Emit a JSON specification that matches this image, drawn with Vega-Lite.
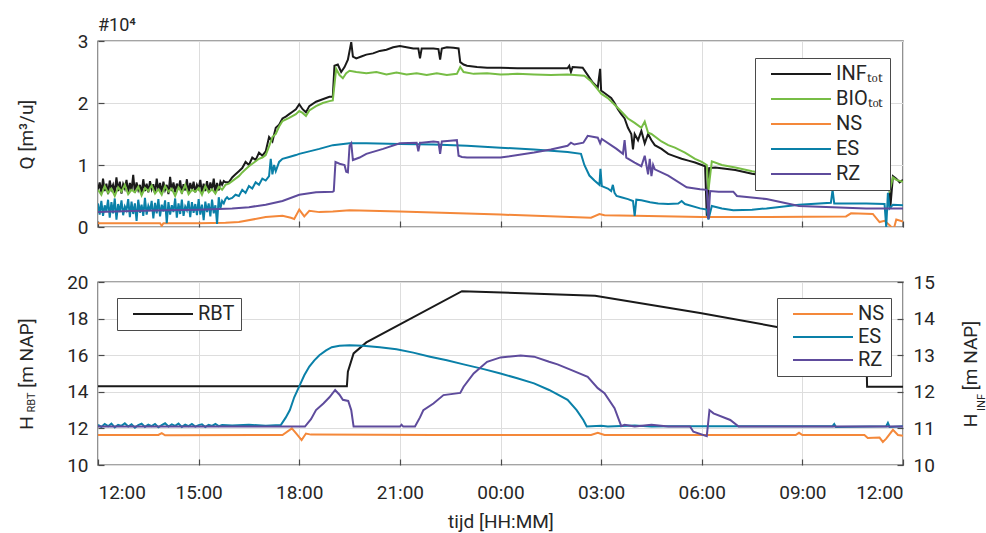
{
  "$schema": "https://vega.github.io/schema/vega-lite/v6.json",
  "background": "white",
  "padding": {"left": 16, "top": 16, "right": 0, "bottom": 0},
  "spacing": 34,
  "config": {
    "font": "Roboto",
    "view": {"stroke": "#4a4a4a", "strokeWidth": 1.4},
    "axis": {
      "labelFont": "Roboto", "titleFont": "Roboto",
      "labelFontSize": 19, "titleFontSize": 19, "titleFontWeight": "normal",
      "labelColor": "#262626", "titleColor": "#262626",
      "domain": false, "ticks": true, "tickSize": -6, "tickColor": "#4a4a4a", "tickWidth": 1.2,
      "gridColor": "#dddddd", "gridWidth": 1, "labelPadding": 16
    },
    "legend": {
      "labelFont": "Roboto", "labelFontSize": 20, "labelColor": "#262626",
      "symbolType": "M0,0H12", "symbolSize": 100, "symbolStrokeWidth": 2.5,
      "strokeColor": "#4a4a4a", "fillColor": "white", "padding": 6,
      "labelOffset": 55, "rowPadding": 3, "orient": "none"
    },
    "line": {"strokeWidth": 2}
  },
  "datasets": {
    "q": [
      {"s": "INF",
       "t": [0,0.05,0.1,0.15,0.2,0.25,0.3,0.35,0.4,0.45,0.5,0.55,0.6,0.65,0.7,0.75,0.8,0.85,0.9,0.95,1,1.05,1.1,1.15,1.2,1.25,1.3,1.35,1.4,1.45,1.5,1.55,1.6,1.65,1.7,1.75,1.8,1.85,1.9,1.95,2,2.05,2.1,2.15,2.2,2.25,2.3,2.35,2.4,2.45,2.5,2.55,2.6,2.65,2.7,2.75,2.8,2.85,2.9,2.95,3,3.05,3.1,3.15,3.2,3.25,3.3,3.35,3.4,3.45,3.5,3.55,3.6,3.65,3.7,3.75,3.8,
             3.9,4.0,4.1,4.2,4.3,4.4,4.5,4.6,4.7,4.8,4.9,5.0,5.1,5.2,5.3,5.4,5.5,5.6,5.7,5.8,5.9,6.0,6.1,6.2,6.3,6.5,6.7,6.9,7.0,7.05,7.15,7.25,7.35,7.45,7.55,7.6,7.7,7.85,8.0,8.2,8.4,8.6,8.8,9.0,9.2,9.4,9.55,9.6,9.65,9.8,10.0,10.15,10.2,10.25,10.4,10.6,10.75,10.8,10.9,11.0,11.3,11.6,12.0,12.5,13.0,13.5,14.0,14.05,14.1,14.15,14.45,14.6,14.75,14.9,14.97,15.0,15.2,15.3,15.4,15.5,15.6,15.7,15.8,15.9,15.95,16.0,16.1,16.2,16.3,16.4,16.5,16.6,16.8,17.0,17.2,17.4,17.6,17.8,18.0,18.1,18.15,18.22,18.4,18.7,19.0,19.5,20.0,21.0,22.0,22.8,23.3,23.4,23.5,23.58,23.62,23.7,23.8,23.9,24.0],
       "v": [0.6,0.72,0.55,0.78,0.58,0.7,0.53,0.75,0.61,0.68,0.55,0.8,0.58,0.73,0.54,0.69,0.62,0.76,0.56,0.71,0.59,0.84,0.55,0.72,0.6,0.68,0.53,0.77,0.58,0.7,0.56,0.74,0.61,0.69,0.54,0.78,0.59,0.71,0.55,0.73,0.6,0.68,0.53,0.81,0.58,0.72,0.56,0.7,0.61,0.75,0.54,0.69,0.59,0.77,0.55,0.71,0.6,0.73,0.56,0.68,0.62,0.76,0.55,0.7,0.58,0.74,0.57,0.72,0.6,0.78,0.56,0.71,0.59,0.73,0.68,0.74,0.72,
             0.72,0.8,0.85,0.9,0.95,1.05,1.0,1.12,1.08,1.2,1.15,1.22,1.45,1.38,1.6,1.65,1.75,1.78,1.82,1.86,1.9,1.98,1.9,1.85,1.95,2.02,2.06,2.1,2.1,2.6,2.62,2.5,2.58,2.7,2.98,2.75,2.72,2.75,2.78,2.8,2.84,2.86,2.9,2.92,2.9,2.88,2.88,2.72,2.88,2.88,2.88,2.87,2.7,2.88,2.9,2.89,2.88,2.66,2.62,2.6,2.58,2.57,2.57,2.56,2.56,2.56,2.56,2.6,2.5,2.58,2.57,2.45,2.33,2.25,2.55,2.2,2.12,2.08,2.0,1.9,1.82,1.75,1.6,1.5,1.25,1.5,1.4,1.55,1.35,1.5,1.4,1.32,1.26,1.18,1.14,1.1,1.07,1.04,1.0,0.98,0.18,0.95,0.96,0.94,0.92,0.86,0.82,0.78,0.74,0.71,0.7,0.66,0.72,0.98,0.3,0.82,0.78,0.72,0.76]},
      {"s": "BIO",
       "t": [0,0.1,0.2,0.3,0.4,0.5,0.6,0.7,0.8,0.9,1,1.1,1.2,1.3,1.4,1.5,1.6,1.7,1.8,1.9,2,2.1,2.2,2.3,2.4,2.5,2.6,2.7,2.8,2.9,3,3.1,3.2,3.3,3.4,3.5,3.6,3.7,3.8,
             3.9,4.0,4.1,4.2,4.3,4.4,4.5,4.6,4.7,4.8,4.9,5.0,5.1,5.2,5.3,5.4,5.5,5.7,5.9,6.0,6.1,6.2,6.3,6.5,6.7,6.9,7.0,7.1,7.2,7.3,7.4,7.5,7.7,8.0,8.3,8.6,8.9,9.2,9.5,9.8,10.1,10.4,10.7,10.8,10.9,11.2,11.6,12.0,12.5,13.0,13.5,14.0,14.5,14.7,14.9,15.0,15.2,15.5,15.8,16.0,16.2,16.3,16.4,16.5,16.8,17.0,17.2,17.5,17.8,18.0,18.15,18.2,18.3,18.6,19.0,19.5,20.0,21.0,22.0,22.8,23.3,23.5,23.6,23.7,23.8,24.0],
       "v": [0.6,0.52,0.66,0.55,0.62,0.5,0.64,0.57,0.68,0.53,0.6,0.56,0.65,0.51,0.63,0.58,0.67,0.54,0.61,0.52,0.66,0.57,0.62,0.5,0.64,0.55,0.68,0.53,0.6,0.57,0.63,0.52,0.66,0.56,0.61,0.54,0.65,0.6,0.68,
             0.7,0.74,0.78,0.82,0.88,0.93,0.98,1.02,1.06,1.1,1.12,1.16,1.3,1.45,1.5,1.62,1.71,1.76,1.82,1.87,1.84,1.79,1.88,1.95,2.0,2.03,2.04,2.55,2.45,2.4,2.48,2.52,2.5,2.48,2.5,2.46,2.49,2.46,2.48,2.45,2.48,2.45,2.47,2.58,2.5,2.47,2.48,2.46,2.47,2.46,2.45,2.46,2.44,2.35,2.22,2.15,2.08,1.92,1.75,1.68,1.6,1.7,1.52,1.5,1.38,1.32,1.28,1.2,1.1,1.05,1.0,0.6,1.06,1.0,0.96,0.9,0.85,0.8,0.75,0.7,0.66,0.68,0.58,0.8,0.76,0.73]},
      {"s": "NS",
       "t": [0,1,1.85,1.9,1.95,3,3.8,4.2,5,5.5,5.75,5.85,6.0,6.15,6.3,6.6,7,7.5,9,12,14.7,14.95,15.1,16,18,20,22.3,22.45,23.1,23.3,23.45,23.6,23.72,23.8,24],
       "v": [0.06,0.06,0.06,0.02,0.06,0.06,0.07,0.08,0.16,0.18,0.15,0.13,0.28,0.17,0.26,0.24,0.25,0.27,0.25,0.2,0.15,0.21,0.19,0.18,0.16,0.16,0.17,0.22,0.21,0.08,0.1,0.03,-0.04,0.12,0.09]},
      {"s": "ES",
       "t": [0,0.05,0.1,0.15,0.2,0.25,0.3,0.35,0.4,0.45,0.5,0.55,0.6,0.65,0.7,0.75,0.8,0.85,0.9,0.95,1,1.05,1.1,1.15,1.2,1.25,1.3,1.35,1.4,1.45,1.5,1.55,1.6,1.65,1.7,1.75,1.8,1.85,1.9,1.95,2,2.05,2.1,2.15,2.2,2.25,2.3,2.35,2.4,2.45,2.5,2.55,2.6,2.65,2.7,2.75,2.8,2.85,2.9,2.95,3,3.05,3.1,3.15,3.2,3.25,3.3,3.35,3.4,3.45,3.5,3.55,3.6,3.65,3.7,3.75,3.8,
             3.85,3.9,4.0,4.1,4.2,4.3,4.4,4.5,4.6,4.7,4.8,4.9,5.0,5.1,5.15,5.2,5.25,5.3,5.4,5.5,5.7,5.9,6.0,6.3,6.6,7.0,7.5,8.0,9.0,10.0,11.0,12.0,13.0,14.0,14.4,14.5,14.65,14.8,14.95,14.98,15.02,15.2,15.3,15.35,15.4,15.46,15.6,15.8,15.95,16.0,16.05,16.2,16.46,16.7,17.0,17.3,17.4,17.5,17.95,18.15,18.2,18.3,18.6,18.94,19.5,19.93,20.9,21.85,21.9,21.95,22.4,22.9,23.45,23.5,23.55,23.6,23.7,24],
       "v": [0.38,0.2,0.42,0.18,0.35,0.25,0.44,0.15,0.4,0.22,0.46,0.12,0.37,0.24,0.43,0.19,0.33,0.27,0.45,0.16,0.41,0.21,0.38,0.1,0.44,0.23,0.36,0.18,0.47,0.2,0.34,0.26,0.42,0.14,0.39,0.22,0.45,0.17,0.36,0.25,0.43,0.06,0.4,0.2,0.35,0.24,0.46,0.15,0.38,0.21,0.44,0.18,0.33,0.27,0.42,0.16,0.4,0.23,0.37,0.19,0.45,0.2,0.36,0.11,0.41,0.24,0.38,0.17,0.44,0.22,0.35,0.05,0.48,0.3,0.42,0.38,0.45,
             0.48,0.45,0.47,0.52,0.5,0.6,0.55,0.66,0.62,0.72,0.68,0.78,0.75,0.82,1.1,0.85,1.0,0.9,1.05,1.1,1.13,1.16,1.18,1.22,1.26,1.32,1.35,1.35,1.34,1.33,1.31,1.28,1.25,1.21,1.18,1.0,0.83,0.75,0.68,0.94,0.66,0.62,0.58,0.68,0.55,0.5,0.48,0.45,0.42,0.18,0.44,0.43,0.4,0.38,0.37,0.38,0.42,0.37,0.3,0.28,0.12,0.34,0.3,0.27,0.28,0.3,0.36,0.39,0.6,0.38,0.38,0.38,0.37,0.0,0.55,0.3,0.36,0.35]},
      {"s": "RZ",
       "t": [0,1,2,3,4,4.5,5,5.5,6,6.5,7,7.03,7.08,7.2,7.35,7.4,7.45,7.5,7.55,7.6,7.8,8,8.5,9,9.5,9.55,9.6,9.65,10,10.15,10.2,10.25,10.5,10.7,10.75,10.85,11,12,13,13.5,14,14.1,14.2,14.47,14.6,14.9,14.97,15.02,15.46,15.65,15.7,15.75,16,16.2,16.3,16.4,16.45,16.5,16.55,16.6,17,17.55,17.95,18.15,18.2,18.25,18.5,18.94,19.05,19.93,20.9,21.9,22.9,24],
       "v": [0.24,0.26,0.27,0.28,0.3,0.32,0.36,0.42,0.52,0.56,0.57,0.58,1.05,1.02,1.0,0.89,0.88,1.31,1.35,1.08,1.12,1.18,1.26,1.35,1.36,1.22,1.36,1.36,1.38,1.37,1.18,1.38,1.39,1.4,1.15,1.13,1.12,1.12,1.2,1.25,1.31,1.36,1.33,1.36,1.47,1.44,1.35,1.42,1.26,1.18,1.4,1.12,1.04,0.98,1.15,0.85,1.1,0.82,1.0,0.93,0.83,0.64,0.61,0.6,0.13,0.58,0.57,0.57,0.5,0.45,0.34,0.32,0.3,0.3]}
    ],
    "h": [
      {"s": "RBT",
       "t": [0,7.42,7.45,7.62,8.0,10.85,14.82,17.95,20.2,22.9,22.93,24],
       "v": [14.3,14.3,15.1,16.1,16.7,19.5,19.25,18.3,17.56,16.7,14.28,14.28]},
      {"s": "NS",
       "t": [0,1.8,1.9,2.0,5.5,5.78,5.92,6.07,6.2,6.35,10,14.7,14.9,15.1,20.8,20.9,21.0,22.85,22.95,23.3,23.4,23.5,23.7,23.85,24],
       "v": [10.82,10.82,10.87,10.81,10.82,11.0,10.85,10.68,10.86,10.83,10.82,10.82,10.88,10.82,10.82,10.88,10.82,10.82,10.74,10.75,10.63,10.72,10.96,10.82,10.8]},
      {"s": "ES",
       "t": [0,0.1,0.2,0.3,0.4,0.5,0.6,0.7,0.8,0.9,1,1.1,1.2,1.3,1.4,1.5,1.6,1.7,1.8,1.9,2,2.1,2.2,2.3,2.4,2.5,2.6,2.7,2.8,2.9,3,3.1,3.2,3.3,3.4,3.5,3.6,3.7,
             4.0,4.5,5.0,5.45,5.6,5.72,5.85,6.02,6.15,6.3,6.45,6.6,6.8,6.97,7.2,7.5,7.9,8.4,8.9,9.4,9.9,10.4,10.9,11.5,12.0,12.5,13.0,13.45,14.0,14.27,14.47,14.57,15.0,15.2,16,16.5,17,20,21.9,21.95,22.0,23.5,23.55,23.6,24],
       "v": [11.1,11.04,11.12,11.06,11.13,11.03,11.1,11.07,11.14,11.05,11.11,11.02,11.09,11.13,11.04,11.1,11.06,11.12,11.03,11.09,11.14,11.05,11.11,11.07,11.13,11.04,11.1,11.06,11.12,11.05,11.09,11.11,11.04,11.1,11.07,11.12,11.06,11.09,
             11.08,11.1,11.07,11.09,11.3,11.5,11.85,12.19,12.45,12.69,12.86,13.0,13.13,13.22,13.26,13.27,13.26,13.22,13.16,13.07,12.96,12.86,12.75,12.62,12.5,12.37,12.23,12.05,11.78,11.5,11.23,11.05,11.07,11.05,11.08,11.05,11.06,11.06,11.06,11.12,11.04,11.06,11.15,11.04,11.06]},
      {"s": "RZ",
       "t": [0,6.17,6.35,6.5,6.72,6.9,7.07,7.2,7.3,7.46,7.55,7.62,9.0,9.05,9.1,9.45,9.6,9.7,10.0,10.3,10.8,10.9,11.2,11.6,12.0,12.6,13.0,13.45,13.7,14.1,14.6,14.9,15.1,15.4,15.6,15.7,16,16.5,17.0,17.65,17.75,18.15,18.23,18.35,18.85,19.1,24],
       "v": [11.05,11.05,11.25,11.5,11.68,11.85,12.05,11.92,11.78,11.75,11.5,11.05,11.05,11.1,11.05,11.05,11.3,11.5,11.68,11.91,11.97,12.14,12.5,12.82,12.94,12.99,12.96,12.82,12.75,12.6,12.41,12.1,11.96,11.55,11.06,11.1,11.05,11.1,11.05,11.05,10.91,10.79,11.5,11.41,11.23,11.05,11.05]}
    ]
  },
  "resolve": {"scale": {"color": "independent"}, "legend": {"color": "independent"}},
  "vconcat": [
    {
      "width": 805,
      "height": 186,
      "title": {"text": "#10⁴", "anchor": "start", "frame": "group", "fontSize": 18, "fontWeight": "normal", "color": "#262626", "offset": -3},
      "data": {"name": "q"},
      "transform": [{"flatten": ["t", "v"]}],
      "mark": {"type": "line", "clip": true},
      "encoding": {
        "x": {
          "field": "t", "type": "quantitative",
          "scale": {"domain": [0, 24], "nice": false},
          "axis": {"values": [0, 3, 6, 9, 12, 15, 18, 21, 24], "labels": false, "title": null}
        },
        "y": {
          "field": "v", "type": "quantitative",
          "scale": {"domain": [0, 3], "nice": false},
          "axis": {"values": [0, 1, 2, 3], "title": "Q [m³/u]", "minExtent": 54, "maxExtent": 54, "titlePadding": 8}
        },
        "color": {
          "field": "s", "type": "nominal",
          "scale": {"domain": ["INF", "BIO", "NS", "ES", "RZ"], "range": ["#1a1a1a", "#77bd45", "#f4883a", "#0a80a8", "#5e4b9c"]},
          "legend": {
            "title": null, "legendX": 657, "legendY": 17, "rowPadding": 5,
            "labelExpr": "datum.label == 'INF' ? 'INFₜₒₜ' : datum.label == 'BIO' ? 'BIOₜₒₜ' : datum.label"
          }
        }
      }
    },
    {
      "width": 805,
      "height": 183,
      "data": {"name": "h"},
      "transform": [{"flatten": ["t", "v"]}],
      "encoding": {
        "x": {
          "field": "t", "type": "quantitative",
          "scale": {"domain": [0, 24], "nice": false},
          "axis": {
            "values": [0, 3, 6, 9, 12, 15, 18, 21, 24],
            "labelExpr": "((datum.value + 12) % 24 < 10 ? '0' : '') + ((datum.value + 12) % 24) + ':00'",
            "title": "tijd [HH:MM]", "labelPadding": 24, "titlePadding": 10
          }
        }
      },
      "layer": [
        {
          "transform": [{"filter": "datum.s == 'RBT'"}],
          "mark": {"type": "line", "clip": true},
          "encoding": {
            "y": {
              "field": "v", "type": "quantitative",
              "scale": {"domain": [10, 20], "nice": false},
              "axis": {"orient": "left", "values": [10, 12, 14, 16, 18, 20], "title": "H\u00a0\u00a0\u00a0\u00a0\u00a0 [m NAP]", "minExtent": 54, "maxExtent": 54, "titlePadding": 8}
            },
            "color": {
              "field": "s", "type": "nominal",
              "scale": {"domain": ["RBT"], "range": ["#1a1a1a"]},
              "legend": {"title": null, "legendX": 19, "legendY": 16}
            }
          }
        },
        {
          "transform": [{"filter": "datum.s != 'RBT'"}],
          "mark": {"type": "line", "clip": true},
          "encoding": {
            "y": {
              "field": "v", "type": "quantitative",
              "scale": {"domain": [10, 15], "nice": false},
              "axis": {"orient": "right", "values": [10, 11, 12, 13, 14, 15], "grid": false, "title": "H\u00a0\u00a0\u00a0\u00a0 [m NAP]", "titleAngle": 270, "titleBaseline": "top", "minExtent": 52, "maxExtent": 52, "titlePadding": 6}
            },
            "color": {
              "field": "s", "type": "nominal",
              "scale": {"domain": ["NS", "ES", "RZ"], "range": ["#f4883a", "#0a80a8", "#5e4b9c"]},
              "legend": {"title": null, "legendX": 679, "legendY": 16}
            }
          }
        },
        {
          "transform": [{"filter": "datum.s == 'RBT'"}],
          "mark": {"type": "line", "opacity": 0},
          "encoding": {
            "y": {
              "field": "v", "type": "quantitative",
              "scale": {"domain": [10, 20], "nice": false},
              "axis": {"orient": "left", "labels": false, "ticks": false, "grid": false, "title": "RBT", "titleFontSize": 11, "titleY": 120, "minExtent": 54, "maxExtent": 54, "titlePadding": 8}
            }
          }
        },
        {
          "transform": [{"filter": "datum.s == 'RBT'"}],
          "mark": {"type": "line", "opacity": 0},
          "encoding": {
            "y": {
              "field": "v", "type": "quantitative",
              "scale": {"domain": [10, 20], "nice": false},
              "axis": {"orient": "right", "labels": false, "ticks": false, "grid": false, "title": "INF", "titleFontSize": 11, "titleAngle": 270, "titleBaseline": "top", "titleY": 120, "minExtent": 52, "maxExtent": 52, "titlePadding": 20}
            }
          }
        }
      ],
      "resolve": {"scale": {"y": "independent", "color": "independent"}, "legend": {"color": "independent"}}
    }
  ]
}
